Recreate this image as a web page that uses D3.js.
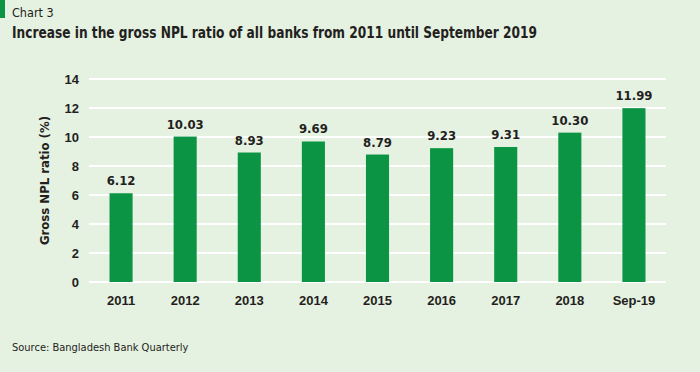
<!DOCTYPE html>
<html>
<head>
    <meta charset="utf-8" />
    <title>npl chart</title>
    <script src="https://cdn.jsdelivr.net/npm/d3@7"></script>
    <style>
        body { margin: 0; background: #e5f1e1; }
        svg { display: block; font-family: "DejaVu Sans Condensed", "DejaVu Sans", sans-serif; }
        .tick text { fill: #231f20; font-weight: bold; font-size: 13px; }
        .grid line { stroke: #ffffff; stroke-width: 2px; }
    </style>
</head>
<body>
<svg width="700" height="372"></svg>
<script>
    // values
    var years = ['2011', '2012', '2013', '2014', '2015', '2016', '2017', '2018', 'Sep-19'];
    var nplRatio = [6.12, 10.03, 8.93, 9.69, 8.79, 9.23, 9.31, 10.30, 11.99];
    var yTicks = [0, 2, 4, 6, 8, 10, 12, 14];

    var svg = d3.select('svg');
    var plotLeft = 89, plotRight = 666, plotTop = 79, plotBottom = 282;

    svg.append('rect').attr('width', 700).attr('height', 372).attr('fill', '#e5f1e1');
    svg.append('rect').attr('x', 0).attr('y', 0).attr('width', 5).attr('height', 18).attr('fill', '#0a9444');

    svg.append('text').attr('x', 12).attr('y', 17)
        .style('font-size', '12.5px').style('fill', '#231f20')
        .text('Chart 3');
    svg.append('text').attr('x', 12).attr('y', 38)
        .style('font-size', '15px').style('font-weight', 'bold').style('fill', '#231f20')
        .attr('textLength', 525).attr('lengthAdjust', 'spacingAndGlyphs')
        .text('Increase in the gross NPL ratio of all banks from 2011 until September 2019');

    var x = d3.scaleBand().domain(years).range([plotLeft, plotRight]).paddingInner(0.64).paddingOuter(0.32);
    var y = d3.scaleLinear().domain([0, 14]).range([plotBottom, plotTop]);

    // gridlines
    svg.append('g').attr('class', 'grid')
        .selectAll('line').data(yTicks).enter().append('line')
        .attr('x1', plotLeft).attr('x2', plotRight)
        .attr('y1', function(d) { return y(d); })
        .attr('y2', function(d) { return y(d); });

    // y axis
    var yAxis = svg.append('g').attr('transform', 'translate(' + (plotLeft - 10) + ',0)')
        .call(d3.axisLeft(y).tickValues(yTicks).tickSize(0).tickPadding(0));
    yAxis.select('.domain').remove();

    // bars
    svg.append('g').selectAll('rect').data(nplRatio).enter().append('rect')
        .attr('x', function(d, i) { return x(years[i]); })
        .attr('y', function(d) { return y(d); })
        .attr('width', x.bandwidth())
        .attr('height', function(d) { return y(0) - y(d); })
        .attr('fill', '#0a9444');

    // value labels
    svg.append('g').selectAll('text').data(nplRatio).enter().append('text')
        .attr('x', function(d, i) { return x(years[i]) + x.bandwidth() / 2; })
        .attr('y', function(d) { return y(d) - 8; })
        .style('text-anchor', 'middle')
        .style('font-size', '13px').style('font-weight', 'bold').style('fill', '#231f20')
        .text(function(d) { return d.toFixed(2); });

    // x axis
    var xAxis = svg.append('g').attr('transform', 'translate(0,' + (plotBottom + 10) + ')')
        .call(d3.axisBottom(x).tickSize(0).tickPadding(4));
    xAxis.select('.domain').remove();

    svg.append('text')
        .attr('transform', 'translate(49,' + ((plotTop + plotBottom) / 2) + ') rotate(-90)')
        .style('text-anchor', 'middle')
        .style('font-size', '13px').style('font-weight', 'bold').style('fill', '#231f20')
        .text('Gross NPL ratio (%)');

    svg.append('text').attr('x', 12).attr('y', 351)
        .style('font-size', '11px').style('fill', '#231f20')
        .text('Source: Bangladesh Bank Quarterly');
</script>
</body>
</html>
